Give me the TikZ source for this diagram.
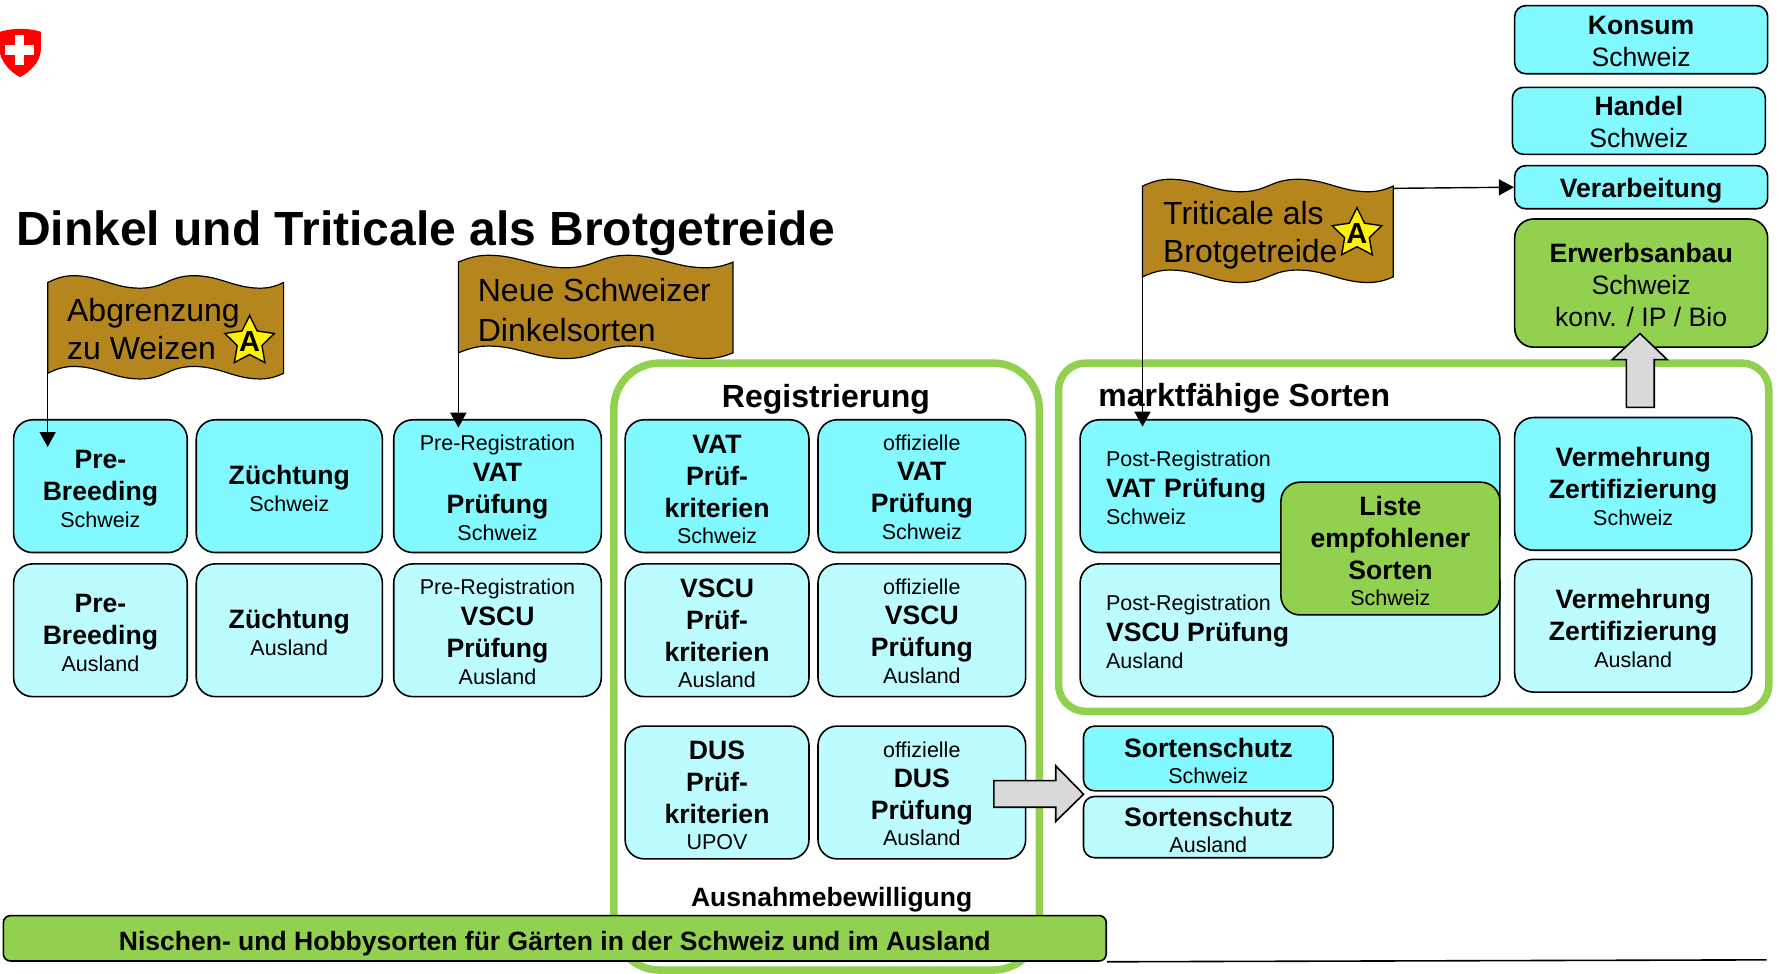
\documentclass[tikz,border=0pt]{standalone}
\usepackage{fontspec}
\setmainfont{Liberation Sans}
\usetikzlibrary{shapes.geometric,arrows.meta}
\definecolor{cyanA}{HTML}{82F8FF}
\definecolor{cyanB}{HTML}{BCFCFF}
\definecolor{leaf}{HTML}{92D050}
\definecolor{flagc}{HTML}{B5861E}
\definecolor{greyar}{HTML}{D9D9D9}
\definecolor{shieldred}{HTML}{FF0000}
\newcommand\mn[1]{{\fontsize{26.6}{32}\selectfont\bfseries\rule[-5pt]{0pt}{32pt}#1}}
\newcommand\sbl[1]{{\fontsize{21.5}{28}\selectfont\rule[-3pt]{0pt}{24pt}#1}}
\newcommand\rl[1]{{\fontsize{26.6}{32}\selectfont\rule[-5pt]{0pt}{32pt}#1}}
\newcommand\bx[7]{%
  \pgfmathsetmacro\bxw{(#4-#2)*1.1346}%
  \pgfmathsetmacro\bxh{(#5-#3)*1.1346}%
  \node[#6,minimum width=\bxw pt,minimum height=\bxh pt] (#1) at ({(#2+#4)/2},{(#3+#5)/2}) {#7};}
\newcommand\flagshape[4]{% name, x, y of upper left corner, width
  \begin{scope}[shift={(#2,#3)},xscale=#4/100]
    \draw[flagline]
      (0,0) .. controls (4,-4) and (7,-6) .. (11,-6)
      .. controls (22,-6) and (28,5) .. (39,5)
      .. controls (50,5) and (51,-6) .. (62,-6)
      .. controls (73,-6) and (79,5) .. (90,5)
      .. controls (94,5) and (97,3) .. (100,0)
      -- (100,80)
      .. controls (97,83) and (94,85) .. (90,85)
      .. controls (79,85) and (73,74) .. (62,74)
      .. controls (51,74) and (50,85) .. (39,85)
      .. controls (28,85) and (22,74) .. (11,74)
      .. controls (7,74) and (4,76) .. (0,80) -- cycle;
    \coordinate (#1) at (0,80);
  \end{scope}}
\tikzset{
  box/.style={draw=black,line width=1.6pt,rounded corners=19pt,inner sep=0pt,align=center,
    execute at begin node={\baselineskip=0pt\lineskiplimit=0pt\lineskip=0pt}},
  ch/.style={box,fill=cyanA},
  au/.style={box,fill=cyanB},
  gr/.style={box,fill=leaf},
  small/.style={rounded corners=11pt},
  lefttext/.style={align=left,text width=#1},
  frame/.style={draw=leaf,line width=7.5pt,rounded corners=#1,inner sep=0pt},
  flagline/.style={draw=black,line width=1.2pt,fill=flagc},
  flagtext/.style={font=\fontsize{32}{38}\selectfont,align=left,anchor=west,inner sep=0pt},
  heading/.style={font=\fontsize{32}{36}\selectfont\bfseries,inner sep=0pt},
  starbadge/.style={star,star points=5,star point ratio=2.0,draw=black,line width=1.4pt,fill=yellow,
    minimum size=52pt,inner sep=0pt,font=\fontsize{29}{29}\selectfont\bfseries},
  pole/.style={draw=black,line width=1.4pt,-{Triangle[length=15pt,width=16pt]}},
  blockar/.style={draw=black,line width=1.6pt,fill=greyar,line join=miter},
}
\newcommand\starA{\makebox[0pt]{\raisebox{-10pt}[0pt][0pt]{A}}}
\begin{document}
\begin{tikzpicture}[x=1.1346pt,y=-1.1346pt]
\useasboundingbox (0,0) rectangle (1568,858);

% shield
\fill[shieldred] (0,28) .. controls (12,24.5) and (24,24.5) .. (36,28) -- (36,44)
  .. controls (36,54) and (26,64) .. (17.6,68) .. controls (10,64) and (2,56) .. (0,47) -- cycle;
\fill[white] (13.3,31) rectangle (21.5,57.5);
\fill[white] (4.4,39.8) rectangle (30,48.3);

% title
\node[anchor=west,inner sep=0pt,font=\fontsize{48}{54}\selectfont\bfseries] (title) at (14,205.5) {Dinkel und Triticale als Brotgetreide};

% green frames
\bx{regframe}{541}{320}{916}{855}{frame=46pt}{}
\bx{mktframe}{933}{320}{1559}{627}{frame=27pt}{}

% flags
\flagshape{flagA}{42}{249}{208}
\node[flagtext] (flagAtext) at (59,290) {\rule{0pt}{24pt}Abgrenzung\\[0pt]zu Weizen};
\node[starbadge] (starAb) at (220,301) {\starA};
\flagshape{flagB}{404}{231}{242}
\node[flagtext] (flagBtext) at (421,273) {\rule{0pt}{24pt}Neue Schweizer\\[1.5pt]Dinkelsorten};
\flagshape{flagC}{1007}{164}{221}
\node[flagtext] (flagCtext) at (1025,207) {\rule{0pt}{24pt}Triticale als\\[0pt]Brotgetreide};
\node[starbadge] (starTr) at (1196,206) {\starA};
\coordinate (flagCedge) at (1228,166);

% left column boxes
\bx{pbch}{12}{370}{165}{487}{ch}{\mn{Pre-}\\\mn{Breeding}\\\sbl{Schweiz}}
\bx{zch}{173}{370}{337}{487}{ch}{\mn{Züchtung}\\\sbl{Schweiz}}
\bx{prvat}{347}{370}{530}{487}{ch}{\sbl{Pre-Registration}\\\mn{VAT}\\\mn{Prüfung}\\\sbl{Schweiz}}
\bx{pbau}{12}{497}{165}{614}{au}{\mn{Pre-}\\\mn{Breeding}\\\sbl{Ausland}}
\bx{zau}{173}{497}{337}{614}{au}{\mn{Züchtung}\\\sbl{Ausland}}
\bx{prvscu}{347}{497}{530}{614}{au}{\sbl{Pre-Registration}\\\mn{VSCU}\\\mn{Prüfung}\\\sbl{Ausland}}

% registrierung
\node[heading] (reghead) at (728,352) {Registrierung};
\bx{vatk}{551}{370}{713}{487}{ch}{\mn{VAT}\\\mn{Prüf-}\\\mn{kriterien}\\\sbl{Schweiz}}
\bx{vato}{721}{370}{904}{487}{ch}{\sbl{offizielle}\\\mn{VAT}\\\mn{Prüfung}\\\sbl{Schweiz}}
\bx{vscuk}{551}{497}{713}{614}{au}{\mn{VSCU}\\\mn{Prüf-}\\\mn{kriterien}\\\sbl{Ausland}}
\bx{vscuo}{721}{497}{904}{614}{au}{\sbl{offizielle}\\\mn{VSCU}\\\mn{Prüfung}\\\sbl{Ausland}}
\bx{dusk}{551}{640}{713}{757}{au}{\mn{DUS}\\\mn{Prüf-}\\\mn{kriterien}\\\sbl{UPOV}}
\bx{duso}{721}{640}{904}{757}{au}{\sbl{offizielle}\\\mn{DUS}\\\mn{Prüfung}\\\sbl{Ausland}}
\node[inner sep=0pt,font=\fontsize{26.5}{32}\selectfont\bfseries] (ausn) at (733,793) {Ausnahmebewilligung};

% marktfaehige
\node[heading,anchor=west] (mkthead) at (968,351) {marktfähige Sorten};
\bx{povat}{952}{370}{1322}{487}{ch,lefttext=368pt}{\sbl{Post-Registration}\\\mn{VAT\kern9pt Prüfung}\\\sbl{Schweiz}}
\bx{povscu}{952}{497}{1322}{614}{au,lefttext=368pt}{\sbl{Post-Registration}\\\mn{VSCU\kern4pt\ Prüfung}\\\sbl{Ausland}}
\bx{liste}{1129}{425}{1322}{542}{gr}{\mn{Liste}\\\mn{empfohlener}\\\mn{Sorten}\\\sbl{Schweiz}}
\bx{vmch}{1335}{368}{1544}{485}{ch}{\mn{Vermehrung}\\\mn{Zertifizierung}\\\sbl{Schweiz}}
\bx{vmau}{1335}{493}{1544}{610}{au}{\mn{Vermehrung}\\\mn{Zertifizierung}\\\sbl{Ausland}}

% value chain
\bx{konsum}{1335}{5}{1558}{65}{ch,small}{\mn{Konsum}\\\rl{Schweiz}}
\bx{handel}{1333}{77}{1556}{136}{ch,small}{\mn{Handel}\\\rl{Schweiz}}
\bx{verarb}{1335}{146}{1558}{184}{ch,small}{\mn{Verarbeitung}}
\bx{erwerb}{1335}{193}{1558}{306}{gr}{\mn{Erwerbsanbau}\\\rl{Schweiz}\\\rl{konv. / IP / Bio}}

% Sortenschutz
\bx{ssch}{955}{640}{1175}{697}{ch,small}{\mn{Sortenschutz}\\\sbl{Schweiz}}
\bx{ssau}{955}{702}{1175}{756}{au,small}{\mn{Sortenschutz}\\\sbl{Ausland}}

% block arrows
\draw[blockar] (1433.5,359) -- (1433.5,317) -- (1421,317) -- (1445.5,294) -- (1469.5,317) -- (1458,317) -- (1458,359) -- cycle;
\draw[blockar] (876,688) -- (930.5,688) -- (930.5,675) -- (955,700) -- (930.5,724) -- (930.5,711.5) -- (876,711.5) -- cycle;

% bottom rule and bar
\coordinate (ruleend) at (1557,846);
\bx{nischen}{3}{807}{975}{847}{gr,rounded corners=7pt}{\fontsize{26.5}{32}\selectfont\bfseries\rule[-2pt]{0pt}{32pt}Nischen- und Hobbysorten für Gärten in der Schweiz und im Ausland}
\draw[line width=1.6pt] (nischen.south east) -- (ruleend);

% flag connectors
\coordinate (tipA) at (42,394);
\coordinate (tipB) at (404,377);
\coordinate (tipC) at (1007,376);
\draw[pole] (flagA) -- (tipA);
\draw[pole] (flagB) -- (tipB);
\draw[pole] (flagC) -- (tipC);
\draw[pole] (flagCedge) -- (verarb.west);
\end{tikzpicture}
\end{document}
